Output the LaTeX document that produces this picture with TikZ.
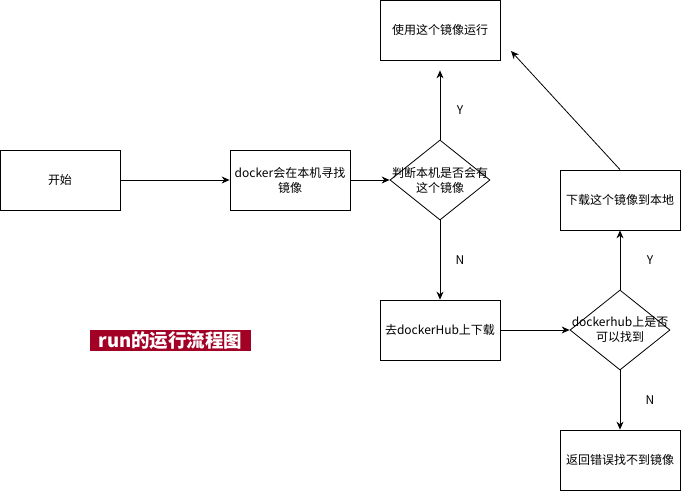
\documentclass[tikz,border=0pt]{standalone}
\usepackage{fontspec}
\setmainfont{Noto Sans CJK SC}
\usetikzlibrary{shapes.geometric,arrows.meta}
\definecolor{titlered}{RGB}{162,0,37}
\begin{document}
\begin{tikzpicture}[x=1pt,y=-1pt,
		font=\fontsize{12}{15}\selectfont,
		box/.style={draw,line width=0.8pt,minimum width=120pt,minimum height=60pt,inner sep=1pt,align=center},
		check/.style={draw,diamond,line width=0.8pt,minimum width=100pt,minimum height=80pt,inner sep=0pt},
		arr/.style={-{Stealth[length=8pt,width=7pt]},line width=0.8pt},
		yn/.style={inner sep=0pt}]
				\useasboundingbox (0,0) rectangle (681,491);
				\node[box] (start) at (60,180) {开始};
				\node[box] (local) at (290,180) {docker会在本机寻找\\镜像};
				\node[check, label={[align=center,inner sep=0pt]center:判断本机是否会有\\这个镜像}] (has) at (440,180) {};
				\node[box] (use) at (440,30) {使用这个镜像运行};
				\node[box] (hub) at (440,330) {去dockerHub上下载};
				\node[check, label={[align=center,inner sep=0pt]center:dockerhub上是否\\可以找到}] (find) at (620,330) {};
				\node[box] (pull) at (620,200) {下载这个镜像到本地};
				\node[box] (fail) at (620,460) {返回错误找不到镜像};
				\coordinate (usecorner) at (511,51);
				\draw[arr] (start) to (local);
				\draw[arr] (local) to (has.west);
				\draw[arr, shorten >=10pt] (has.north) to (use.south);
				\draw[arr] (has.south) to (hub.north);
				\draw[arr] (hub) to (find.west);
				\draw[arr] (find.north) to (pull.south);
				\draw[arr] (find.south) to (fail.north);
				\draw[arr] (pull.north) to (usecorner);
				\node[yn] (y1) at (460,110) {Y};
				\node[yn] (n1) at (460,260) {N};
				\node[yn] (y2) at (650,260) {Y};
				\node[yn] (n2) at (650,400) {N};
				\node[fill=titlered,text=white,inner sep=0pt,minimum width=161pt,minimum height=21pt,font=\fontsize{18.5}{18.5}\selectfont\bfseries] (title) at (170.5,340.5) {run的运行流程图};
			\end{tikzpicture}
\end{document}
